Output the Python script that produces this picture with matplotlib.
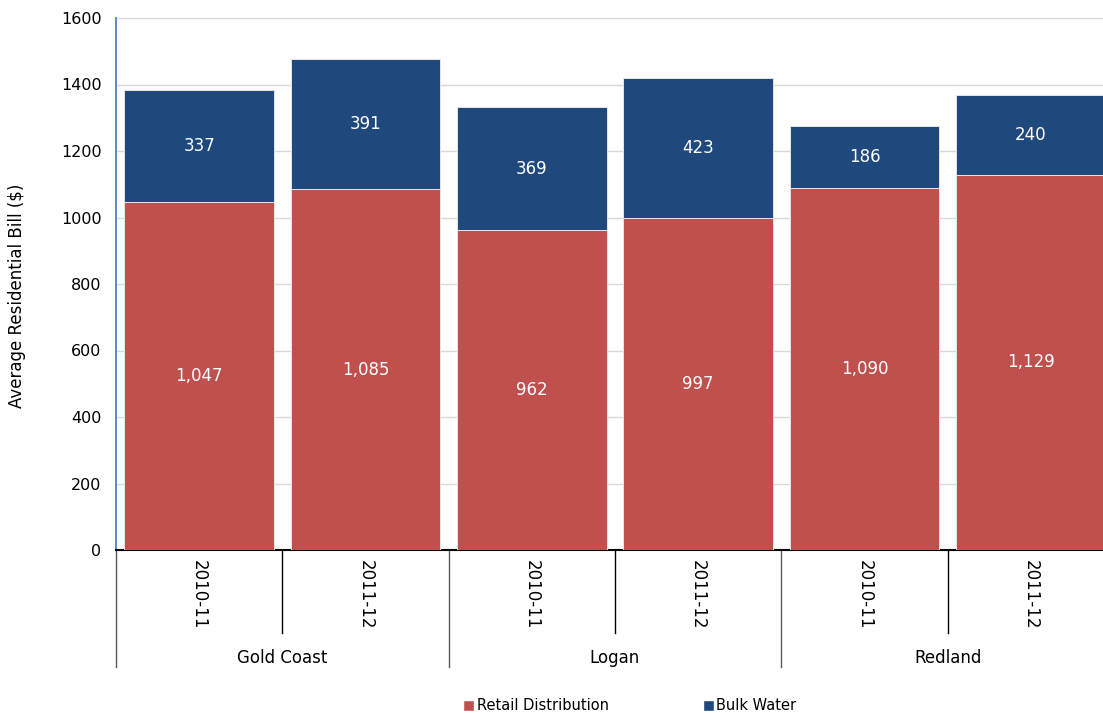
import matplotlib
matplotlib.use("Agg")
import matplotlib.pyplot as plt
import matplotlib.transforms as mtransforms
from matplotlib.patches import Patch

# Data
regions = ["Gold Coast", "Logan", "Redland"]
years = ["2010-11", "2011-12"]
retail_distribution = [1047, 1085, 962, 997, 1090, 1129]
bulk_water = [337, 391, 369, 423, 186, 240]

RED = "#C0504D"
BLUE = "#1F497D"
FONT = "DejaVu Sans"
plt.rcParams["font.family"] = [FONT]

W, H = 1103, 714
fig = plt.figure(figsize=(W / 100, H / 100), dpi=100)
ax = fig.add_axes([116 / W, (H - 550) / H, 998 / W, 532 / H])

n = len(retail_distribution)
x = list(range(n))
width = 0.9

ax.bar(x, retail_distribution, width=width, color=RED, edgecolor="#E6E6E6",
       linewidth=0.7, zorder=3)
ax.bar(x, bulk_water, width=width, bottom=retail_distribution, color=BLUE,
       edgecolor="#E6E6E6", linewidth=0.7, zorder=3)

# Value labels centred in each segment
for i in x:
    r = retail_distribution[i]
    b = bulk_water[i]
    ax.text(i, r / 2, f"{r:,}", ha="center", va="center", color="white",
            fontsize=12, zorder=4)
    ax.text(i, r + b / 2, f"{b:,}", ha="center", va="center", color="white",
            fontsize=12, zorder=4)

ax.set_xlim(-0.5, n - 0.5)
ax.set_ylim(0, 1600)
ax.set_yticks(range(0, 1601, 200))
ax.tick_params(axis="y", length=0, pad=10.5, labelsize=11.5, colors="#000000")
ax.set_xticks([])
ax.grid(axis="y", color="#D9D9D9", linewidth=1, zorder=0)
ax.set_axisbelow(True)

for s in ("top", "right"):
    ax.spines[s].set_visible(False)
ax.spines["left"].set_color("#4F81BD")
ax.spines["left"].set_linewidth(1.3)
ax.spines["bottom"].set_color("#000000")
ax.spines["bottom"].set_linewidth(1.5)

ax.set_ylabel("Average Residential Bill ($)", fontsize=12)
ax.yaxis.set_label_coords(-0.09, 0.478)

# Two-level category axis
px = 1.0 / 532  # one pixel in axes-height units
trans = mtransforms.blended_transform_factory(ax.transData, ax.transAxes)
for i in x:
    ax.text(i, -10 * px, years[i % len(years)], rotation=270, ha="center",
            va="top", fontsize=12, transform=trans, clip_on=False)
for i in range(1, n):
    depth = 117 if i % len(years) == 0 else 83
    ax.plot([i - 0.5, i - 0.5], [0, -depth * px], transform=trans,
            color="#000000" if depth == 83 else "#595959", linewidth=1,
            clip_on=False)
ax.plot([-0.5, -0.5], [0, -117 * px], transform=trans, color="#595959",
        linewidth=1, clip_on=False)
for g, name in enumerate(regions):
    center = g * len(years) + (len(years) - 1) / 2
    ax.text(center, -108 * px, name, ha="center", va="center", fontsize=12,
            transform=trans, clip_on=False)

handles = [Patch(facecolor=RED, edgecolor="white", label="Retail Distribution"),
           Patch(facecolor=BLUE, edgecolor="white", label="Bulk Water")]
fig.legend(handles=handles, loc="center", bbox_to_anchor=(630 / W, 1 - 706 / H),
           ncol=2, frameon=False, fontsize=10.5, handlelength=0.7,
           handleheight=0.7, handletextpad=0.2, columnspacing=6.5)

fig.savefig("out.png", dpi=100)
